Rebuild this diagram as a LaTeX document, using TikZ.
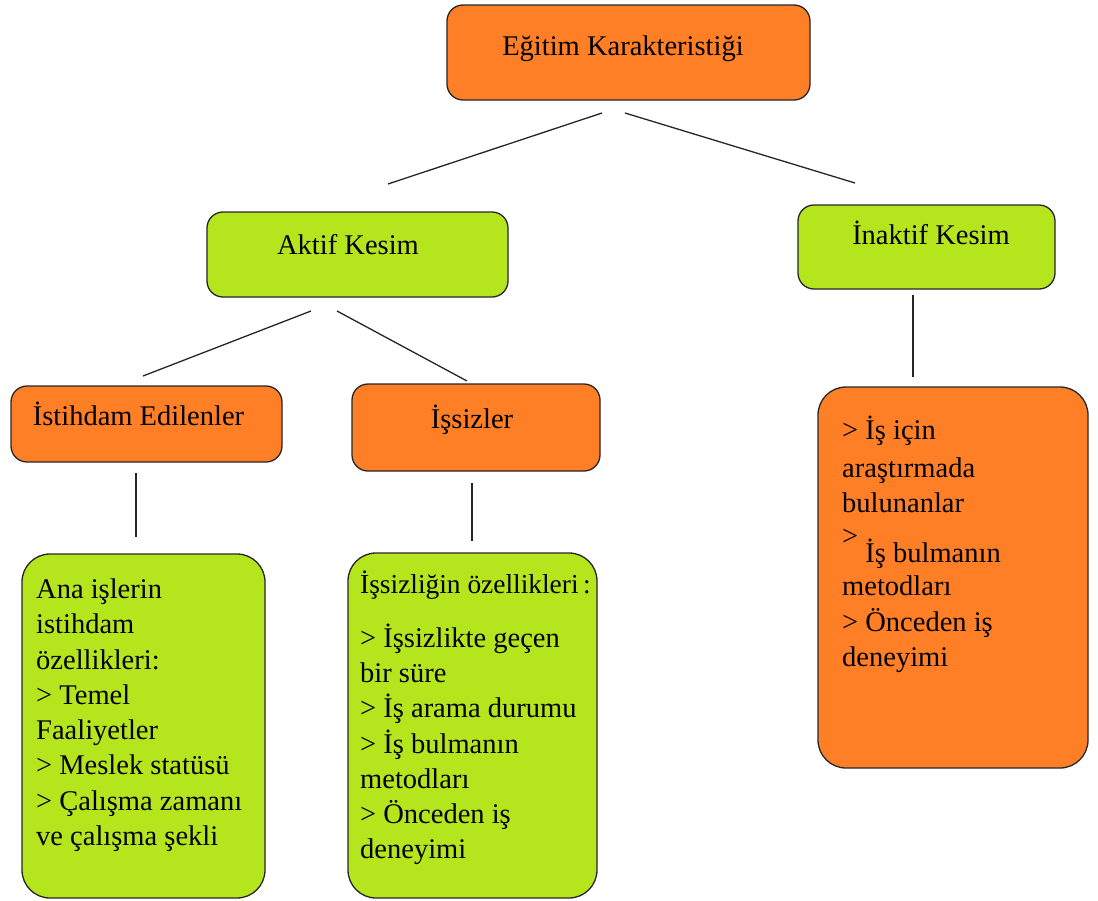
\documentclass[tikz,border=0pt]{standalone}
\usepackage{fontspec}
\setmainfont{Liberation Serif}
\usepackage{xcolor}
\definecolor{kturuncu}{RGB}{255,127,39}
\definecolor{kyesil}{RGB}{181,230,29}

\begin{document}
\begin{tikzpicture}[x=1pt, y=-1pt,
    every node/.style={font=\fontsize{28.5}{35.3}\selectfont},
    kutu/.style={draw=black!85, line width=1.3pt, rounded corners=16pt, inner sep=0pt, outer sep=0pt},
    buyuk/.style={kutu, rounded corners=28pt},
    yazi/.style={inner sep=0pt, align=left, anchor=north west},
    cizgi/.style={line width=1.3pt, black!85}]
  \useasboundingbox (0,0) rectangle (1098,900);
  % Top
  \node[kutu, fill=kturuncu, minimum width=363pt, minimum height=95pt,
    label={[anchor=base, xshift=-5.5pt, yshift=-50pt]north:Eğitim Karakteristiği}] (egitim) at (628.5,52.5) {};
  % Second level
  \node[kutu, fill=kyesil, minimum width=301pt, minimum height=85pt,
    label={[anchor=base, xshift=-9.5pt, yshift=-42pt]north:Aktif Kesim}] (aktif) at (357.5,254.5) {};
  \node[kutu, fill=kyesil, minimum width=257pt, minimum height=84pt,
    label={[anchor=base, xshift=4.5pt, yshift=-39pt]north:İnaktif Kesim}] (inaktif) at (926.5,247) {};
  % Third level
  \node[kutu, fill=kturuncu, minimum width=271pt, minimum height=76pt,
    label={[anchor=base, xshift=-8pt, yshift=-39pt]north:İstihdam Edilenler}] (istihdam) at (146.5,424) {};
  \node[kutu, fill=kturuncu, minimum width=248pt, minimum height=87pt,
    label={[anchor=base, xshift=-4pt, yshift=-44pt]north:İşsizler}] (issizler) at (476,427.5) {};
  % Details
  \node[buyuk, fill=kyesil, minimum width=243pt, minimum height=344pt,
    label={[yazi, xshift=14pt, yshift=-24.5pt]north west:{Ana işlerin\\istihdam\\özellikleri:\\> Temel\\Faaliyetler\\> Meslek statüsü\\> Çalışma zamanı\\ve çalışma şekli}}] (istihdamoz) at (143.5,726) {};
  \node[buyuk, fill=kyesil, minimum width=249pt, minimum height=345pt,
    label={[yazi, xshift=12pt, yshift=-18pt]north west:{{\fontsize{27.4}{35.3}\selectfont İşsizliğin özellikleri\,:}\\[18pt]> İşsizlikte geçen\\bir süre\\> İş arama durumu\\> İş bulmanın\\metodları\\> Önceden iş\\deneyimi}}] (issizlikoz) at (472.5,725.5) {};
  \node[buyuk, fill=kturuncu, minimum width=270pt, minimum height=381pt,
    label={[yazi, xshift=24pt, yshift=-29pt]north west:{> İş için\\[2pt]araştırmada\\bulunanlar\\[15pt]\smash{\raisebox{17pt}{>}} İş bulmanın\\[-2pt]metodları\\> Önceden iş\\deneyimi}}] (inaktifoz) at (953,577.5) {};

  % Connectors
  \coordinate (e1) at (602,113); \coordinate (a1) at (388,184);
  \coordinate (e2) at (625,113); \coordinate (i1) at (855,183);
  \coordinate (a2) at (311,311); \coordinate (s1) at (143,376);
  \coordinate (a3) at (337,311); \coordinate (s2) at (467,381);
  \coordinate (s3) at (136,473); \coordinate (d1) at (136,537);
  \coordinate (s4) at (472,483); \coordinate (d2) at (472,541);
  \coordinate (i2) at (913,295); \coordinate (d3) at (913,377);
  \draw[cizgi] (e1) -- (a1);
  \draw[cizgi] (e2) -- (i1);
  \draw[cizgi] (a2) -- (s1);
  \draw[cizgi] (a3) -- (s2);
  \draw[cizgi] (s3) -- (d1);
  \draw[cizgi] (s4) -- (d2);
  \draw[cizgi] (i2) -- (d3);
\end{tikzpicture}
\end{document}
